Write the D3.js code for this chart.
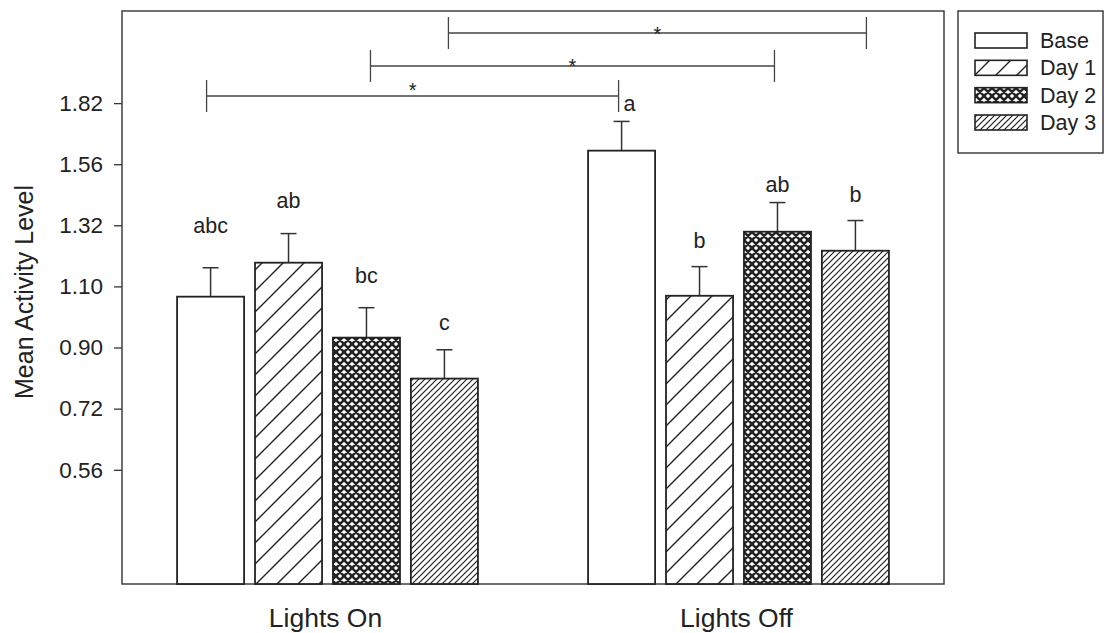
<!DOCTYPE html>
<html>
<head>
<meta charset="utf-8">
<script src="https://cdn.jsdelivr.net/npm/d3@7"></script>
<style>
  body { margin: 0; background: #fff; }
  text { font-family: "Liberation Sans", Arial, sans-serif; fill: #222; }
</style>
</head>
<body>
<script>
// data
const groups = ['Lights On', 'Lights Off'];
const series = ['Base', 'Day 1', 'Day 2', 'Day 3'];
const meanOn = [1.065, 1.183, 0.931, 0.806];
const meanOff = [1.616, 1.068, 1.296, 1.226];
const errOn = [0.100, 0.106, 0.097, 0.087];
const errOff = [0.124, 0.101, 0.111, 0.112];
const lettersOn = ['abc', 'ab', 'bc', 'c'];
const lettersOff = ['a', 'b', 'ab', 'b'];
const yTicks = [0.56, 0.72, 0.90, 1.10, 1.32, 1.56, 1.82];
// pairwise comparisons between the groups, by series index
const compared = [0, 2, 3];

// layout
const width = 1104, height = 633;
const plot = {left: 122, top: 11, right: 944, bottom: 584};
const letterGapOn = [35, 26, 25, 20];
const letterGapOff = [10, 19, 11, 19];
const bracketY = [96, 66, 33];
const bracketNudge = [[-4, -3], [4, -3], [4, 11]];
const starLift = [11, 5, 4];

const svg = d3.select('body').append('svg')
  .attr('width', width)
  .attr('height', height);

// hatch patterns
const defs = svg.append('defs');
function pattern(id, size, d, sw) {
  const p = defs.append('pattern')
    .attr('id', id)
    .attr('patternUnits', 'userSpaceOnUse')
    .attr('width', size)
    .attr('height', size);
  p.append('rect').attr('width', size).attr('height', size).attr('fill', '#fff');
  p.append('path').attr('d', d).attr('stroke', '#222').attr('stroke-width', sw).attr('fill', 'none');
}
pattern('day1', 21, 'M0,21L21,0M-5,5L5,-5M16,26L26,16', 1.4);
pattern('day2', 8, 'M-2,-2L10,10M10,-2L-2,10M-2,6L2,10M6,-2L10,2M-2,2L2,-2M6,10L10,6', 2.5);
pattern('day3', 6, 'M-1,7L7,-1M-4,4L4,-4M2,10L10,2', 1.2);
const fills = ['#fff', 'url(#day1)', 'url(#day2)', 'url(#day3)'];

const x0 = d3.scaleBand().domain(groups).range([plot.left, plot.right]);
const x1 = d3.scaleBand().domain(series)
  .range([x0.bandwidth() * 0.134, x0.bandwidth() * 0.866])
  .paddingInner(0.14);
const y = d3.scaleSqrt().domain([0.315, 2.25]).range([plot.bottom, plot.top]);

const rows = [];
groups.forEach((g, gi) => {
  const means = gi === 0 ? meanOn : meanOff;
  const errs = gi === 0 ? errOn : errOff;
  const letters = gi === 0 ? lettersOn : lettersOff;
  const gaps = gi === 0 ? letterGapOn : letterGapOff;
  series.forEach((s, si) => {
    rows.push({group: g, gi, series: s, si, mean: means[si], err: errs[si], letter: letters[si], gap: gaps[si]});
  });
});
const cx = d => x0(d.group) + x1(d.series) + x1.bandwidth() / 2;

// frame
svg.append('rect')
  .attr('x', plot.left).attr('y', plot.top)
  .attr('width', plot.right - plot.left)
  .attr('height', plot.bottom - plot.top)
  .attr('fill', 'none').attr('stroke', '#333').attr('stroke-width', 1.4);

// y axis
const yAxis = svg.append('g')
  .attr('transform', `translate(${plot.left},0)`)
  .call(d3.axisLeft(y).tickValues(yTicks).tickFormat(d3.format('.2f')).tickSize(8).tickPadding(11));
yAxis.select('.domain').remove();
yAxis.selectAll('line').attr('stroke', '#333').attr('stroke-width', 1.3);
yAxis.selectAll('text').attr('font-size', 22.5).attr('fill', '#222')
  .style('font-family', '"Liberation Sans", Arial, sans-serif');

svg.append('text')
  .attr('transform', `translate(33,292) rotate(-90)`)
  .attr('text-anchor', 'middle')
  .attr('font-size', 25)
  .text('Mean Activity Level');

// group labels
svg.selectAll('.group-label')
  .data(groups)
  .enter().append('text')
  .attr('class', 'group-label')
  .attr('x', g => x0(g) + x0.bandwidth() / 2 - 2)
  .attr('y', 627)
  .attr('text-anchor', 'middle')
  .attr('font-size', 26.5)
  .text(g => g);

// error bars (upper only)
const eb = svg.selectAll('.err').data(rows).enter().append('g').attr('class', 'err')
  .attr('stroke', '#333').attr('stroke-width', 1.5);
eb.append('line')
  .attr('x1', cx).attr('x2', cx)
  .attr('y1', d => y(d.mean)).attr('y2', d => y(d.mean + d.err));
eb.append('line')
  .attr('x1', d => cx(d) - 8).attr('x2', d => cx(d) + 8)
  .attr('y1', d => y(d.mean + d.err)).attr('y2', d => y(d.mean + d.err));

// bars
svg.selectAll('.bar')
  .data(rows)
  .enter().append('rect')
  .attr('class', 'bar')
  .attr('x', d => x0(d.group) + x1(d.series))
  .attr('y', d => y(d.mean))
  .attr('width', x1.bandwidth())
  .attr('height', d => plot.bottom - y(d.mean))
  .attr('fill', d => fills[d.si])
  .attr('stroke', '#222')
  .attr('stroke-width', 1.8);

// significance letters
svg.selectAll('.letter')
  .data(rows)
  .enter().append('text')
  .attr('class', 'letter')
  .attr('x', d => (d.gi === 1 && d.si === 0) ? cx(d) + 2 : cx(d))
  .attr('y', d => y(d.mean + d.err) - d.gap)
  .attr('text-anchor', d => (d.gi === 1 && d.si === 0) ? 'start' : 'middle')
  .attr('font-size', 21.5)
  .text(d => d.letter);

// brackets between groups
compared.forEach((si, i) => {
  const a = x0(groups[0]) + x1(series[si]) + x1.bandwidth() / 2 + bracketNudge[i][0];
  const b = x0(groups[1]) + x1(series[si]) + x1.bandwidth() / 2 + bracketNudge[i][1];
  const yy = bracketY[i];
  const g = svg.append('g').attr('stroke', '#444').attr('stroke-width', 1.3);
  g.append('line').attr('x1', a).attr('x2', b).attr('y1', yy).attr('y2', yy);
  g.append('line').attr('x1', a).attr('x2', a).attr('y1', yy - 16).attr('y2', yy + 16);
  g.append('line').attr('x1', b).attr('x2', b).attr('y1', yy - 16).attr('y2', yy + 16);
  svg.append('text')
    .attr('x', (a + b) / 2)
    .attr('y', yy - starLift[i] + 12)
    .attr('text-anchor', 'middle')
    .attr('font-size', 20)
    .text('*');
});

// legend
const legend = svg.append('g');
legend.append('rect')
  .attr('x', 958).attr('y', 11).attr('width', 145).attr('height', 142)
  .attr('fill', '#fff').attr('stroke', '#333').attr('stroke-width', 1.4);
const ly = d3.scalePoint().domain(series).range([33, 115]);
legend.selectAll('.sw').data(series).enter().append('rect')
  .attr('x', 975).attr('y', s => ly(s))
  .attr('width', 52).attr('height', 15)
  .attr('fill', (s, i) => fills[i])
  .attr('stroke', '#222').attr('stroke-width', 1.6);
legend.selectAll('.lt').data(series).enter().append('text')
  .attr('x', 1040).attr('y', s => ly(s) + 15)
  .attr('font-size', 21.5)
  .text(s => s);
</script>
</body>
</html>
